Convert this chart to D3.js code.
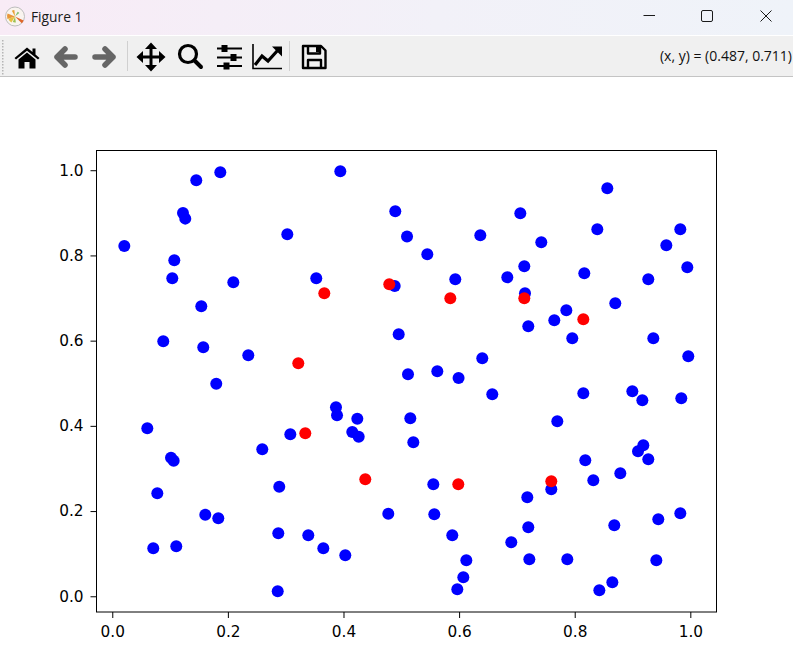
<!DOCTYPE html>
<html>
<head>
<meta charset="utf-8">
<script src="https://d3js.org/d3.v7.min.js"></script>
<style>
    body { margin: 0; background: #fff; }
    svg { display: block; }
</style>
</head>
<body>
<svg width="793" height="672"></svg>
<script>
const blueX = [0.0208, 0.1453, 0.1869, 0.3945, 0.1223, 0.1263, 0.4896, 0.3028, 0.5099, 0.1073, 0.1038, 0.2094,
    0.3529, 0.4886, 0.1540, 0.4955, 0.0882, 0.1574, 0.2353, 0.5116, 0.1799, 0.8564, 0.7059, 0.8391, 0.9827,
    0.9585, 0.9948, 0.6367, 0.7422, 0.5450, 0.7128, 0.6834, 0.8166, 0.5934, 0.9273, 0.7140, 0.8702, 0.7855,
    0.7647, 0.7197, 0.7958, 0.9360, 0.9965, 0.6401, 0.5623, 0.5991, 0.0606, 0.3870, 0.3888, 0.4239, 0.4152,
    0.4263, 0.3080, 0.2595, 0.1016, 0.1062, 0.2889, 0.0779, 0.1609, 0.1834, 0.4775, 0.2872, 0.3391, 0.0709,
    0.1107, 0.3651, 0.4031, 0.2862, 0.5156, 0.5208, 0.6574, 0.8149, 0.8997, 0.9170, 0.9844, 0.7699, 0.9187,
    0.9095, 0.9273, 0.8183, 0.8789, 0.8322, 0.5554, 0.7595, 0.7180, 0.5571, 0.9446, 0.9827, 0.8685, 0.7197,
    0.5882, 0.6903, 0.6125, 0.7215, 0.7872, 0.9412, 0.6073, 0.5969, 0.8651, 0.8426];
const blueY = [0.822, 0.9765, 0.9953, 0.9977, 0.8998, 0.8864, 0.9037, 0.8498, 0.8442, 0.7887, 0.7465, 0.7371,
    0.7465, 0.7284, 0.6808, 0.6150, 0.5986, 0.5845, 0.5657, 0.5211, 0.4991, 0.9577, 0.8991, 0.8615, 0.8615,
    0.8239, 0.7723, 0.8474, 0.8310, 0.8028, 0.7746, 0.7488, 0.7582, 0.7441, 0.7441, 0.7113, 0.6878, 0.6714,
    0.6479, 0.6338, 0.6056, 0.6056, 0.5634, 0.5587, 0.5282, 0.5124, 0.3944, 0.4437, 0.4249, 0.4169, 0.3857,
    0.3746, 0.3803, 0.3451, 0.3254, 0.3183, 0.2573, 0.2418, 0.1916, 0.1831, 0.1939, 0.1479, 0.1432, 0.1127,
    0.1174, 0.1127, 0.0962, 0.0117, 0.4178, 0.3615, 0.4742, 0.4765, 0.4812, 0.4601, 0.4648, 0.4108, 0.3545,
    0.3404, 0.3216, 0.3192, 0.2887, 0.2723, 0.2629, 0.2512, 0.2324, 0.1925, 0.1808, 0.1948, 0.1667, 0.1620,
    0.1432, 0.1268, 0.0845, 0.0869, 0.0869, 0.0845, 0.0446, 0.0164, 0.0329, 0.0141];
const redX = [0.3668, 0.4792, 0.3218, 0.5848, 0.7128, 0.8149, 0.3339, 0.4377, 0.5986, 0.7595];
const redY = [0.7113, 0.7324, 0.5469, 0.6995, 0.6995, 0.6502, 0.3826, 0.2746, 0.2629, 0.2700];
const tickValues = [0, 0.2, 0.4, 0.6, 0.8, 1.0];

const windowTitle = "Figure 1";
const coordText = "(x, y) = (0.487, 0.711)";

function drawWindow(svg) {
    const defs = svg.append("defs");
    const grad = defs.append("linearGradient").attr("id", "titleGrad");
    grad.append("stop").attr("offset", "0%").attr("stop-color", "#f8ebf6");
    grad.append("stop").attr("offset", "55%").attr("stop-color", "#f2f1f8");
    grad.append("stop").attr("offset", "100%").attr("stop-color", "#eff3f9");

    svg.append("rect").attr("width", 793).attr("height", 35).attr("fill", "url(#titleGrad)");
    svg.append("rect").attr("y", 36).attr("width", 793).attr("height", 40).attr("fill", "#f0f0f0");
    svg.append("rect").attr("y", 76).attr("width", 793).attr("height", 1).attr("fill", "#c4c4c4");

    svg.append("text")
        .attr("x", 31).attr("y", 22)
        .attr("font-family", "'Open Sans', 'Noto Sans', sans-serif")
        .attr("font-size", 13.8)
        .attr("fill", "#1a1a1a")
        .text(windowTitle);

    // little matplotlib logo
    const logo = svg.append("g").attr("transform", "translate(15,16.5)");
    logo.append("circle").attr("r", 9.5).attr("fill", "#f9f4ef").attr("stroke", "#bdbdbd");
    const wedges = [
        { a: 2.0, b: 2.35, r: 9.5, c: "#e0662a" },
        { a: -1.9, b: -1.2, r: 8, c: "#e8963a" },
        { a: -2.6, b: -1.9, r: 7, c: "#e8c040" },
        { a: 0.5, b: 0.9, r: 5.5, c: "#7fbf70" },
        { a: -0.5, b: -0.1, r: 6.5, c: "#e8a030" },
        { a: 3.0, b: 3.5, r: 6, c: "#9cc050" }
    ];
    wedges.forEach(w => {
        logo.append("path")
            .attr("d", d3.arc()({ innerRadius: 0, outerRadius: w.r, startAngle: w.a, endAngle: w.b }))
            .attr("fill", w.c);
    });

    // minimize, maximize, close
    const ctl = svg.append("g").attr("fill", "none").attr("stroke", "#1a1a1a").attr("stroke-width", 1);
    ctl.append("path").attr("d", "M643.5,15.5H655");
    ctl.append("rect").attr("x", 701.5).attr("y", 10.5).attr("width", 11).attr("height", 11).attr("rx", 1.5);
    ctl.append("path").attr("d", "M760.5,10.5L771.5,21.5M771.5,10.5L760.5,21.5");

    // grip
    d3.range(40, 74, 3).forEach(y => {
        svg.append("rect").attr("x", 2).attr("y", y).attr("width", 1.5).attr("height", 1.5).attr("fill", "#b5b5b5");
    });

    svg.append("rect").attr("x", 127).attr("y", 41).attr("width", 1).attr("height", 30).attr("fill", "#d0d0d0");
    svg.append("rect").attr("x", 289).attr("y", 41).attr("width", 1).attr("height", 30).attr("fill", "#d0d0d0");

    svg.append("text")
        .attr("x", 792).attr("y", 61)
        .attr("text-anchor", "end")
        .attr("font-family", "'Open Sans', 'Noto Sans', sans-serif")
        .attr("font-size", 14)
        .attr("fill", "#111")
        .text(coordText);
}

function drawIcons(svg) {
    const g = svg.append("g");

    // home
    g.append("path").attr("fill", "#000")
        .attr("d", "M27,47.5 L32.5,52 V48.5 H35.5 V54.5 L39.5,58 L38,59.6 L27,50.8 L16,59.6 L14.5,58 Z M18.5,59.4 L27,52.6 L35.5,59.4 V68.5 H29.5 V62 H24.5 V68.5 H18.5 Z");

    // back and forward arrows
    [[66, -1], [104, 1]].forEach(([cx, dir]) => {
        g.append("path")
            .attr("transform", `translate(${cx},57) scale(${dir},1)`)
            .attr("fill", "none").attr("stroke", "#666").attr("stroke-width", 5.5)
            .attr("stroke-linejoin", "round").attr("stroke-linecap", "round")
            .attr("d", "M-9,0 H9 M1,-8 L9,0 L1,8");
    });

    // pan
    g.append("path").attr("transform", "translate(151,57)").attr("fill", "none").attr("stroke", "#000").attr("stroke-width", 3)
        .attr("d", "M-11,0 H11 M0,-11 V11");
    g.append("path").attr("transform", "translate(151,57)").attr("fill", "#000")
        .attr("d", "M-14.5,0 L-8,-6 V6 Z M14.5,0 L8,-6 V6 Z M0,-14.5 L-6,-8 H6 Z M0,14.5 L-6,8 H6 Z");

    // zoom
    g.append("circle").attr("cx", 188).attr("cy", 54).attr("r", 8.5).attr("fill", "none").attr("stroke", "#000").attr("stroke-width", 3.2);
    g.append("path").attr("fill", "none").attr("stroke", "#000").attr("stroke-width", 4).attr("stroke-linecap", "round")
        .attr("d", "M194.5,60.5 L201,67");

    // sliders
    const sliders = g.append("g").attr("transform", "translate(217,0)");
    [[48.5, 7], [57.5, 16], [66, 9]].forEach(([y, kx]) => {
        sliders.append("rect").attr("x", 0).attr("y", y - 1).attr("width", 25).attr("height", 2).attr("fill", "#000");
        sliders.append("rect").attr("x", kx - 2.5).attr("y", y - 3.5).attr("width", 6).attr("height", 7).attr("fill", "#000");
    });

    // edit axes (line chart)
    g.append("path").attr("fill", "none").attr("stroke", "#000").attr("stroke-width", 1.6)
        .attr("d", "M253,44 V68.5 H282");
    g.append("path").attr("fill", "none").attr("stroke", "#000").attr("stroke-width", 3.2)
        .attr("d", "M255,65 L262,56 L268,61 L278,50");
    g.append("path").attr("fill", "#000").attr("d", "M272,46.5 H282 V56.5 Z");

    // save
    g.append("path").attr("fill", "none").attr("stroke", "#000").attr("stroke-width", 2.4).attr("stroke-linejoin", "round")
        .attr("d", "M303,46 H321 L325.5,50.5 V68 H303 Z M308,46 V53.5 H320 V46 M308,68 V60 H321 V68");
    g.append("rect").attr("x", 316).attr("y", 47).attr("width", 3).attr("height", 5).attr("fill", "#000");
}

function drawChart(svg) {
    const area = { left: 96.5, right: 716.5, top: 150.5, bottom: 612 };

    const scX = d3.scaleLinear().domain([-0.0273, 1.0453]).range([area.left, area.right]);
    const scY = d3.scaleLinear().domain([-0.0369, 1.0463]).range([area.bottom, area.top]);

    const axisX = d3.axisBottom(scX).tickValues(tickValues).tickFormat(d3.format(".1f")).tickSize(6).tickPadding(8);
    const axisY = d3.axisLeft(scY).tickValues(tickValues).tickFormat(d3.format(".1f")).tickSize(6).tickPadding(7);

    const gx = svg.append("g").attr("transform", `translate(0, ${area.bottom})`).call(axisX);
    const gy = svg.append("g").attr("transform", `translate(${area.left}, 0)`).call(axisY);

    [gx, gy].forEach(a => {
        a.select(".domain").remove();
        a.selectAll("line").attr("stroke", "#000").attr("stroke-width", 1);
        a.selectAll("text")
            .attr("font-family", "'DejaVu Sans', sans-serif")
            .attr("font-size", 15.3)
            .attr("fill", "#000");
    });

    svg.selectAll("circle.blue")
        .data(blueX)
        .enter()
        .append("circle")
        .attr("class", "blue")
        .attr("cx", d => scX(d))
        .attr("cy", (d, i) => scY(blueY[i]))
        .attr("r", 6)
        .style("fill", "#0000ff");

    svg.selectAll("circle.red")
        .data(redX)
        .enter()
        .append("circle")
        .attr("class", "red")
        .attr("cx", d => scX(d))
        .attr("cy", (d, i) => scY(redY[i]))
        .attr("r", 6)
        .style("fill", "#ff0000");

    svg.append("rect")
        .attr("x", area.left).attr("y", area.top)
        .attr("width", area.right - area.left).attr("height", area.bottom - area.top)
        .attr("fill", "none").attr("stroke", "#000").attr("stroke-width", 1);
}

const svg = d3.select("svg");
drawWindow(svg);
drawIcons(svg);
drawChart(svg);
</script>
</body>
</html>
